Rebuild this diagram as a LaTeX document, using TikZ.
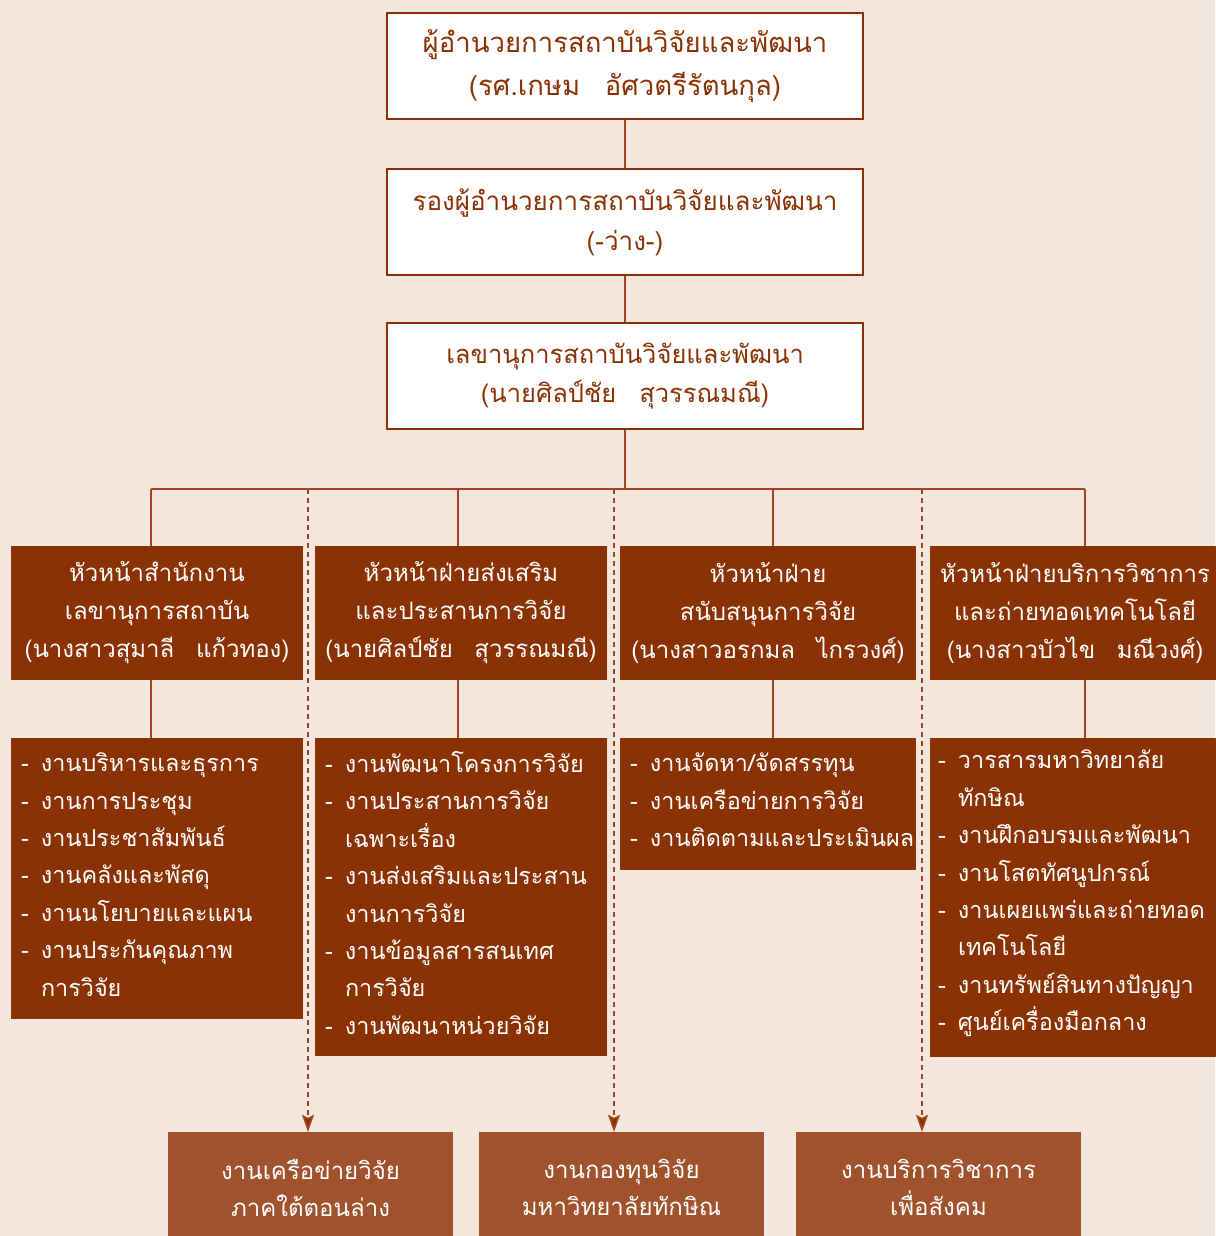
\documentclass[tikz,border=0pt]{standalone}
\usepackage{fontspec}
\setmainfont[Script=Thai]{Loma}
\usetikzlibrary{arrows.meta}
\definecolor{bg}{RGB}{243,230,220}
\definecolor{dbrown}{RGB}{139,50,4}
\definecolor{lbrown}{RGB}{160,82,45}
\definecolor{linec}{RGB}{160,70,30}
\newcommand{\itm}[1]{\makebox[20pt][l]{-}#1}
\newcommand{\cnt}[1]{\hspace*{20pt}#1}
\newcommand{\gap}{\hspace{0.9em}}
\begin{document}
\begin{tikzpicture}[x=1pt,y=-1pt,
  topbox/.style={draw=dbrown, line width=2.8pt, fill=white, text=dbrown, minimum width=476pt, minimum height=106pt, align=center, inner sep=0pt},
  headbox/.style={fill=dbrown, text=white, minimum height=134pt, align=center, inner sep=0pt, font=\fontsize{24}{38}\selectfont},
  listbox/.style={fill=dbrown, inner sep=0pt},
  listtext/.style={text=white, align=left, inner xsep=10pt, inner ysep=0pt, font=\fontsize{23.4}{37.4}\selectfont},
  botbox/.style={fill=lbrown, text=white, minimum width=285pt, minimum height=111pt, align=center, inner sep=0pt, font=\fontsize{24}{37}\selectfont},
  conn/.style={draw=linec, line width=1.6pt},
  dconn/.style={draw=linec, line width=1.6pt, dash pattern=on 5pt off 4pt, -{Stealth[length=17pt,width=12pt,inset=3pt,fill=dbrown]}}
]
\useasboundingbox (0,0) rectangle (1215,1236);
\fill[bg] (0,0) rectangle (1215,1236);

% coordinates of the bus
\coordinate (cA) at (151,489);
\coordinate (cB) at (458,489);
\coordinate (cC) at (773,489);
\coordinate (cD) at (1085,489);
\coordinate (dA) at (308,489);
\coordinate (dB) at (614,489);
\coordinate (dC) at (922,489);

% top boxes
\node[topbox, font=\fontsize{27.5}{43}\selectfont] (top) at (625,66) {ผู้อำนวยการสถาบันวิจัยและพัฒนา\\(รศ.เกษม\gap อัศวตรีรัตนกุล)};
\node[topbox, font=\fontsize{26}{40}\selectfont] (vice) at (625,222) {รองผู้อำนวยการสถาบันวิจัยและพัฒนา\\(-ว่าง-)};
\node[topbox, font=\fontsize{25.5}{39}\selectfont] (sec) at (625,376) {เลขานุการสถาบันวิจัยและพัฒนา\\(นายศิลป์ชัย\gap สุวรรณมณี)};

% head boxes
\node[headbox, minimum width=292pt] (hA) at (157,613) {หัวหน้าสำนักงาน\\เลขานุการสถาบัน\\(นางสาวสุมาลี\gap แก้วทอง)};
\node[headbox, minimum width=292pt] (hB) at (461,613) {หัวหน้าฝ่ายส่งเสริม\\และประสานการวิจัย\\(นายศิลป์ชัย\gap สุวรรณมณี)};
\node[headbox, minimum width=296pt] (hC) at (768,613) {หัวหน้าฝ่าย\\สนับสนุนการวิจัย\\(นางสาวอรกมล\gap ไกรวงศ์)};
\node[headbox, minimum width=290pt] (hD) at (1075,613) {หัวหน้าฝ่ายบริการวิชาการ\\และถ่ายทอดเทคโนโลยี\\(นางสาวบัวไข\gap มณีวงศ์)};

% list boxes
\node[listbox, minimum width=292pt, minimum height=281pt] (lA) at (157,878.5) {};
\node[listbox, minimum width=292pt, minimum height=318pt] (lB) at (461,897) {};
\node[listbox, minimum width=296pt, minimum height=132pt] (lC) at (768,804) {};
\node[listbox, minimum width=290pt, minimum height=319pt] (lD) at (1075,897.5) {};

\node[listtext, text width=272pt] (lAt) at ([yshift=4pt]lA.center) {\itm{งานบริหารและธุรการ}\\\itm{งานการประชุม}\\\itm{งานประชาสัมพันธ์}\\\itm{งานคลังและพัสดุ}\\\itm{งานนโยบายและแผน}\\\itm{งานประกันคุณภาพ}\\\cnt{การวิจัย}};
\node[listtext, text width=272pt] (lBt) at ([yshift=4pt]lB.center) {\itm{งานพัฒนาโครงการวิจัย}\\\itm{งานประสานการวิจัย}\\\cnt{เฉพาะเรื่อง}\\\itm{งานส่งเสริมและประสาน}\\\cnt{งานการวิจัย}\\\itm{งานข้อมูลสารสนเทศ}\\\cnt{การวิจัย}\\\itm{งานพัฒนาหน่วยวิจัย}};
\node[listtext, text width=276pt] (lCt) at ([yshift=4pt]lC.center) {\itm{งานจัดหา/จัดสรรทุน}\\\itm{งานเครือข่ายการวิจัย}\\\itm{งานติดตามและประเมินผล}};
\node[listtext, text width=274pt, inner xsep=8pt] (lDt) at ([yshift=4pt]lD.center) {\itm{วารสารมหาวิทยาลัย}\\\cnt{ทักษิณ}\\\itm{งานฝึกอบรมและพัฒนา}\\\itm{งานโสตทัศนูปกรณ์}\\\itm{งานเผยแพร่และถ่ายทอด}\\\cnt{เทคโนโลยี}\\\itm{งานทรัพย์สินทางปัญญา}\\\itm{ศูนย์เครื่องมือกลาง}};

% bottom boxes
\node[botbox] (bA) at (310.5,1187.5) {งานเครือข่ายวิจัย\\ภาคใต้ตอนล่าง};
\node[botbox] (bB) at (621.5,1187.5) {งานกองทุนวิจัย\\มหาวิทยาลัยทักษิณ};
\node[botbox] (bC) at (938.5,1187.5) {งานบริการวิชาการ\\เพื่อสังคม};

% connectors
\draw[conn] (top) -- (vice);
\draw[conn] (vice) -- (sec);
\draw[conn] (sec.south) -- (sec.south |- cA);
\draw[conn] (cA) -- (cD);
\foreach \c/\h/\l in {cA/hA/lA, cB/hB/lB, cC/hC/lC, cD/hD/lD} {
  \draw[conn] (\c) -- (\c |- \h.north);
  \draw[conn] (\c |- \h.south) -- (\c |- \l.north);
}
\draw[dconn] (dA) -- (dA |- bA.north);
\draw[dconn] (dB) -- (dB |- bB.north);
\draw[dconn] (dC) -- (dC |- bC.north);
\end{tikzpicture}
\end{document}
